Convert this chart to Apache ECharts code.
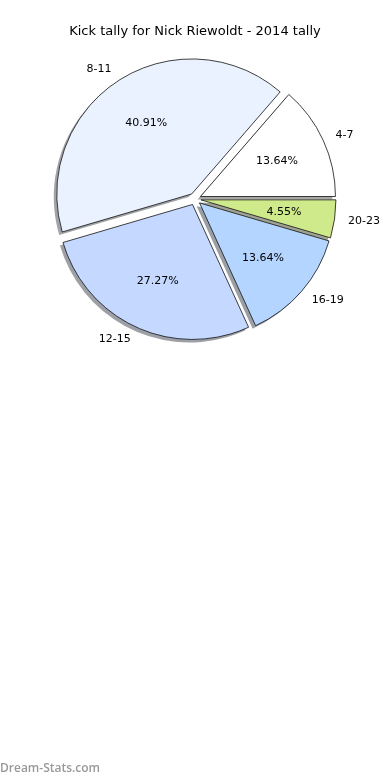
<!DOCTYPE html>
<html>
<head>
<meta charset="utf-8">
<script src="https://cdn.jsdelivr.net/npm/echarts@6/dist/echarts.min.js"></script>
<style>
html,body{margin:0;padding:0;background:#fff;}
#c{width:390px;height:780px;}
</style>
</head>
<body>
<div id="c"></div>
<script>
const categories = ['4-7', '8-11', '12-15', '16-19', '20-23'];
const counts = [3, 9, 6, 3, 1];
const colors = ['#ffffff', '#eaf1ff', '#c5d8ff', '#b3d5ff', '#cfea8a'];
const titleText = 'Kick tally for Nick Riewoldt - 2014 tally';

const R = 135;
const CX = 195, CY = 199;
const total = counts.reduce((a, b) => a + b, 0);
const font = 'DejaVu Sans';

function shadowOf(hex) {
  const n = parseInt(hex.slice(1), 16);
  const r = Math.round(((n >> 16) & 255) * 0.3);
  const g = Math.round(((n >> 8) & 255) * 0.3);
  const b = Math.round((n & 255) * 0.3);
  return 'rgba(' + r + ',' + g + ',' + b + ',0.5)';
}

const shadowData = categories.map((c, i) => ({
  name: c, value: counts[i], selected: true,
  itemStyle: { color: shadowOf(colors[i]) }
}));
const mainData = categories.map((c, i) => ({
  name: c, value: counts[i], selected: true,
  itemStyle: { color: colors[i] }
}));
const pctData = categories.map((c, i) => ({
  name: c, value: counts[i], selected: true
}));

const common = {
  type: 'pie',
  startAngle: 0,
  clockwise: false,
  selectedMode: 'multiple',
  selectedOffset: 6,
  avoidLabelOverlap: false,
  emphasis: { disabled: true }
};

const chart = echarts.init(document.getElementById('c'), null, { renderer: 'canvas' });
chart.setOption({
  animation: false,
  title: {
    text: titleText, left: 'center', top: 20,
    textStyle: { fontFamily: font, fontSize: 13, fontWeight: 'normal', color: '#000' }
  },
  graphic: [{
    type: 'text', left: 0, top: 763,
    style: { text: 'Dream-Stats.com', fill: '#999', font: '600 12px "Open Sans"' }
  }],
  series: [
    Object.assign({}, common, {
      center: [CX - 3, CY + 3],
      radius: [0, R],
      silent: true,
      itemStyle: { borderWidth: 0 },
      label: { show: false },
      labelLine: { show: false },
      data: shadowData
    }),
    Object.assign({}, common, {
      center: [CX, CY],
      radius: [0, R],
      itemStyle: { borderColor: '#111', borderWidth: 0.8 },
      select: { itemStyle: { borderColor: '#111', borderWidth: 0.8 } },
      label: {
        show: true, position: 'outside', formatter: '{b}',
        fontFamily: font, fontSize: 11, color: '#000',
        distanceToLabelLine: 0
      },
      labelLine: { show: false, length: R * 0.1, length2: 0 },
      data: mainData
    }),
    Object.assign({}, common, {
      center: [CX, CY],
      radius: [0, R * 1.2],
      silent: true,
      itemStyle: { color: 'rgba(0,0,0,0)', borderWidth: 0 },
      label: {
        show: true, position: 'inside',
        formatter: p => (p.value / total * 100).toFixed(2) + '%',
        fontFamily: font, fontSize: 11, color: '#000'
      },
      labelLine: { show: false },
      data: pctData
    })
  ]
});
</script>
</body>
</html>
